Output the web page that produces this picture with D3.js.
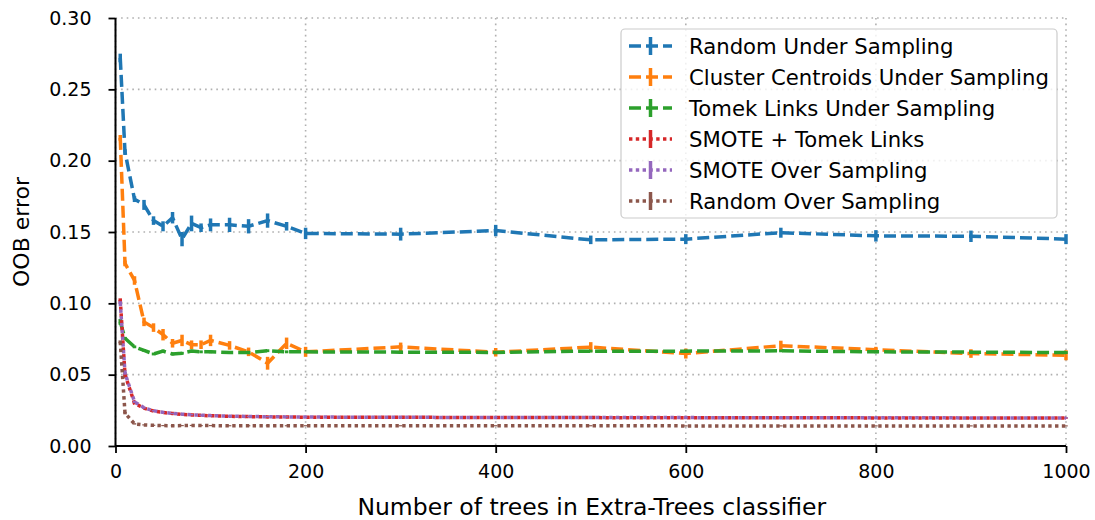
<!DOCTYPE html>
<html>
<head>
<meta charset="utf-8">
<script src="https://cdn.jsdelivr.net/npm/d3@7"></script>
<style>
  body { margin: 0; background: #fff; }
  text { font-family: "DejaVu Sans", sans-serif; fill: #000; }
</style>
</head>
<body>
<svg id="chart" width="1095" height="520"></svg>
<script>
// Number of trees in the ensemble
const nTrees = [5, 10, 20, 30, 40, 50, 60, 70, 80, 90, 100, 120, 140, 160, 180, 200,
                300, 400, 500, 600, 700, 800, 900, 1000];

// OOB error per sampling strategy (mean and half-width of the error bar)
const randomUnder    = [0.272, 0.206, 0.173, 0.169, 0.158, 0.154, 0.160, 0.145, 0.156, 0.153, 0.155, 0.155, 0.154, 0.158, 0.154, 0.149,
                        0.1485, 0.151, 0.1445, 0.145, 0.1495, 0.1473, 0.147, 0.145];
const randomUnderErr = [0.003, 0.002, 0.002, 0.0035, 0.003, 0.0035, 0.004, 0.005, 0.0055, 0.003, 0.0045, 0.005, 0.005, 0.005, 0.003, 0.004,
                        0.0045, 0.004, 0.003, 0.0035, 0.0035, 0.004, 0.004, 0.0035];

const clusterCentroids    = [0.216, 0.128, 0.116, 0.087, 0.083, 0.078, 0.072, 0.074, 0.071, 0.071, 0.074, 0.0705, 0.066, 0.058, 0.072, 0.066,
                             0.0695, 0.0657, 0.0693, 0.0648, 0.0703, 0.0675, 0.0648, 0.0636];
const clusterCentroidsErr = [0.002, 0.002, 0.003, 0.003, 0.003, 0.004, 0.003, 0.004, 0.003, 0.003, 0.004, 0.003, 0.003, 0.0045, 0.004, 0.0035,
                             0.003, 0.003, 0.0035, 0.0035, 0.0035, 0.002, 0.003, 0.0035];

const tomekLinks    = [0.087, 0.0755, 0.0695, 0.067, 0.0645, 0.0665, 0.0645, 0.065, 0.0665, 0.066, 0.066, 0.0655, 0.0655, 0.0668, 0.066, 0.066,
                       0.0658, 0.0656, 0.0665, 0.0665, 0.0667, 0.066, 0.0658, 0.0655];
const tomekLinksErr = [0.002, 0.001, 0.001, 0.001, 0.001, 0.001, 0.001, 0.001, 0.001, 0.001, 0.001, 0.001, 0.001, 0.001, 0.001, 0.001,
                       0.001, 0.001, 0.001, 0.001, 0.001, 0.001, 0.001, 0.001];

const smoteTomek    = [0.1025, 0.050, 0.030, 0.0265, 0.0245, 0.0235, 0.0228, 0.0222, 0.0218, 0.0215, 0.0212, 0.0208, 0.0206, 0.0204, 0.0203, 0.0202,
                       0.0201, 0.0200, 0.0199, 0.0198, 0.0198, 0.0197, 0.0197, 0.0196];
const smoteTomekErr = [0.001, 0.001, 0.0008, 0.0006, 0.0005, 0.0005, 0.0005, 0.0005, 0.0005, 0.0005, 0.0005, 0.0005, 0.0005, 0.0005, 0.0005, 0.0005,
                       0.0005, 0.0005, 0.0005, 0.0005, 0.0005, 0.0005, 0.0005, 0.0005];

const smoteOver    = [0.1005, 0.051, 0.031, 0.0268, 0.0247, 0.0236, 0.0228, 0.0223, 0.0219, 0.0216, 0.0213, 0.0209, 0.0207, 0.0205, 0.0204, 0.0203,
                      0.0201, 0.0200, 0.0200, 0.0199, 0.0198, 0.0198, 0.0197, 0.0197];
const smoteOverErr = [0.001, 0.001, 0.0008, 0.0006, 0.0005, 0.0005, 0.0005, 0.0005, 0.0005, 0.0005, 0.0005, 0.0005, 0.0005, 0.0005, 0.0005, 0.0005,
                      0.0005, 0.0005, 0.0005, 0.0005, 0.0005, 0.0005, 0.0005, 0.0005];

const randomOver    = [0.073, 0.023, 0.0155, 0.0148, 0.0145, 0.0143, 0.0142, 0.0143, 0.0144, 0.0143, 0.0143, 0.0142, 0.0142, 0.0142, 0.0142, 0.0142,
                       0.0142, 0.0142, 0.0142, 0.0141, 0.0141, 0.0141, 0.0141, 0.0141];
const randomOverErr = [0.001, 0.0008, 0.0005, 0.0004, 0.0004, 0.0004, 0.0004, 0.0004, 0.0004, 0.0004, 0.0004, 0.0004, 0.0004, 0.0004, 0.0004, 0.0004,
                       0.0004, 0.0004, 0.0004, 0.0004, 0.0004, 0.0004, 0.0004, 0.0004];

const seriesNames = ["Random Under Sampling", "Cluster Centroids Under Sampling", "Tomek Links Under Sampling",
                     "SMOTE + Tomek Links", "SMOTE Over Sampling", "Random Over Sampling"];

const xTicks = [0, 200, 400, 600, 800, 1000];
const yTicks = [0.00, 0.05, 0.10, 0.15, 0.20, 0.25, 0.30];

const xLabel = "Number of trees in Extra-Trees classifier";
const yLabel = "OOB error";

// Line appearance
const DASHED = "12,5";
const DOTTED = "3.4,3.4";
const series = [
  { name: seriesNames[0], values: randomUnder,      errors: randomUnderErr,      color: "#1f77b4", dash: DASHED },
  { name: seriesNames[1], values: clusterCentroids, errors: clusterCentroidsErr, color: "#ff7f0e", dash: DASHED },
  { name: seriesNames[2], values: tomekLinks,       errors: tomekLinksErr,       color: "#2ca02c", dash: DASHED },
  { name: seriesNames[3], values: smoteTomek,       errors: smoteTomekErr,       color: "#d62728", dash: DOTTED },
  { name: seriesNames[4], values: smoteOver,        errors: smoteOverErr,        color: "#9467bd", dash: DOTTED },
  { name: seriesNames[5], values: randomOver,       errors: randomOverErr,       color: "#8c564b", dash: DOTTED }
];

const svg = d3.select("#chart");
const plot = { left: 115.5, right: 1066, top: 18, bottom: 446 };

const x = d3.scaleLinear().domain([0, 1000]).range([plot.left, plot.right]);
const y = d3.scaleLinear().domain([0, 0.30]).range([plot.bottom, plot.top]);

const LW = 3.5;
const TICK_FONT = 19;

// Grid
const grid = svg.append("g").attr("class", "grid");
grid.selectAll("line.gx").data(xTicks).join("line")
  .attr("x1", d => x(d)).attr("x2", d => x(d))
  .attr("y1", plot.top).attr("y2", plot.bottom)
  .attr("stroke", "#b0b0b0").attr("stroke-width", 1.6).attr("stroke-dasharray", "1.6,4");
grid.selectAll("line.gy").data(yTicks).join("line")
  .attr("x1", plot.left).attr("x2", plot.right)
  .attr("y1", d => y(d)).attr("y2", d => y(d))
  .attr("stroke", "#b0b0b0").attr("stroke-width", 1.6).attr("stroke-dasharray", "1.6,4");

// Series: line plus vertical error bars
const line = d3.line().x((d, i) => x(nTrees[i])).y(d => y(d));
series.forEach(s => {
  const g = svg.append("g").attr("class", "series");
  g.append("path")
    .attr("d", line(s.values))
    .attr("fill", "none")
    .attr("stroke", s.color)
    .attr("stroke-width", LW)
    .attr("stroke-dasharray", s.dash);
  g.selectAll("line.err").data(s.values).join("line")
    .attr("class", "err")
    .attr("x1", (d, i) => x(nTrees[i])).attr("x2", (d, i) => x(nTrees[i]))
    .attr("y1", (d, i) => y(d - s.errors[i])).attr("y2", (d, i) => y(d + s.errors[i]))
    .attr("stroke", s.color).attr("stroke-width", LW);
});

// Axes
const xAxis = d3.axisBottom(x).tickValues(xTicks).tickFormat(d3.format("d"))
  .tickSize(7).tickPadding(12);
const yAxis = d3.axisLeft(y).tickValues(yTicks).tickFormat(d3.format(".2f"))
  .tickSize(7).tickPadding(17);

const gx = svg.append("g").attr("transform", `translate(0,${plot.bottom})`).call(xAxis);
const gy = svg.append("g").attr("transform", `translate(${plot.left},0)`).call(yAxis);
[gx, gy].forEach(g => {
  g.select(".domain").attr("stroke", "#000").attr("stroke-width", 2);
  g.selectAll(".tick line").attr("stroke", "#000").attr("stroke-width", 1.8);
  g.selectAll(".tick text").attr("font-size", TICK_FONT).attr("fill", "#000")
    .style("font-family", "'DejaVu Sans', sans-serif");
});
gx.select(".domain").attr("d", `M${plot.left},0H${plot.right}`);
gy.select(".domain").attr("d", `M0,${plot.bottom}V${plot.top}`);

// Axis labels
svg.append("text")
  .attr("x", (plot.left + plot.right) / 2 + 1).attr("y", 515)
  .attr("text-anchor", "middle").attr("font-size", 23.5)
  .text(xLabel);
svg.append("text")
  .attr("transform", `translate(29,${(plot.top + plot.bottom) / 2}) rotate(-90)`)
  .attr("text-anchor", "middle").attr("font-size", 22)
  .text(yLabel);

// Legend
const legend = svg.append("g").attr("class", "legend");
legend.append("rect")
  .attr("x", 621).attr("y", 29).attr("width", 436).attr("height", 189)
  .attr("rx", 4).attr("fill", "#fff").attr("fill-opacity", 0.8)
  .attr("stroke", "#cccccc").attr("stroke-width", 1.2);
series.forEach((s, i) => {
  const cy = 46 + i * 31;
  const row = legend.append("g");
  row.append("line")
    .attr("x1", 629).attr("x2", 672).attr("y1", cy).attr("y2", cy)
    .attr("stroke", s.color).attr("stroke-width", LW).attr("stroke-dasharray", s.dash);
  row.append("line")
    .attr("x1", 650.5).attr("x2", 650.5).attr("y1", cy - 9).attr("y2", cy + 9)
    .attr("stroke", s.color).attr("stroke-width", LW);
  row.append("text")
    .attr("x", 689).attr("y", cy + 7.5)
    .attr("font-size", 21.2)
    .text(s.name);
});
</script>
</body>
</html>
